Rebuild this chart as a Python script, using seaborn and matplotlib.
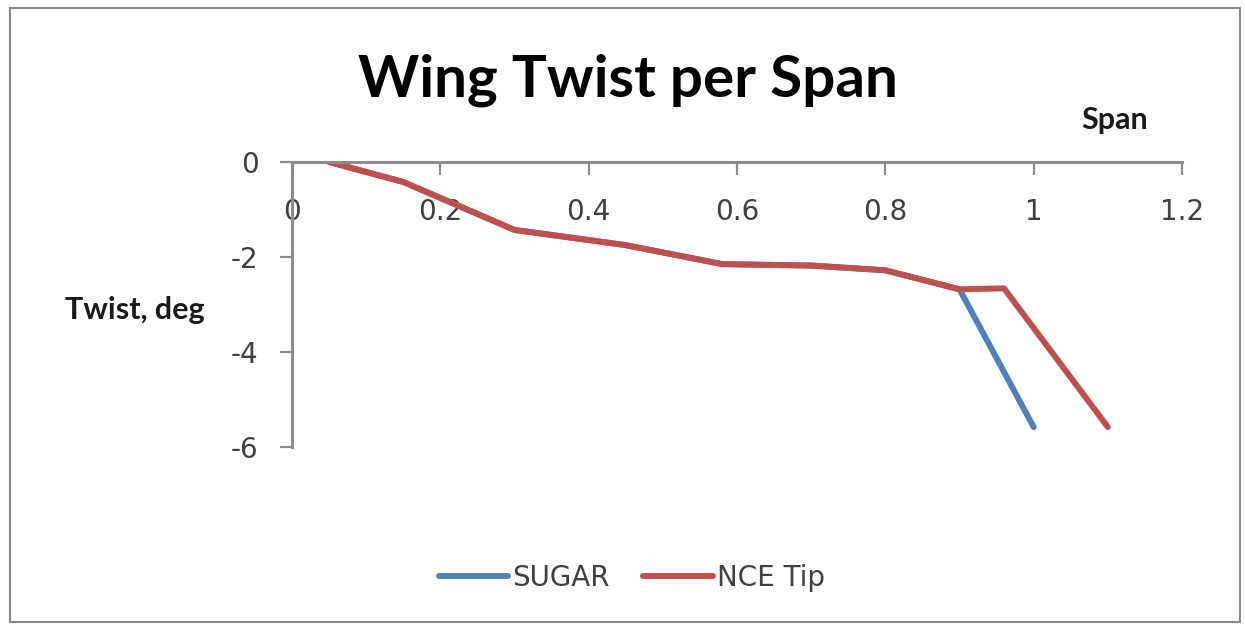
import matplotlib
matplotlib.use("Agg")
import matplotlib.pyplot as plt
import seaborn as sns
import pandas as pd
from matplotlib.patches import Rectangle

# Data
sugar_span = [0.05, 0.15, 0.30, 0.45, 0.58, 0.70, 0.80, 0.90, 1.00]
sugar_twist = [0.0, -0.42, -1.43, -1.75, -2.15, -2.18, -2.28, -2.68, -5.58]
nce_span = [0.05, 0.15, 0.30, 0.45, 0.58, 0.70, 0.80, 0.90, 0.96, 1.10]
nce_twist = [0.0, -0.42, -1.43, -1.75, -2.15, -2.18, -2.28, -2.68, -2.66, -5.58]
series_names = ["SUGAR", "NCE Tip"]
x_ticks = [0, 0.2, 0.4, 0.6, 0.8, 1.0, 1.2]
x_tick_labels = ["0", "0.2", "0.4", "0.6", "0.8", "1", "1.2"]
y_ticks = [0, -2, -4, -6]
y_tick_labels = ["0", "-2", "-4", "-6"]

df = pd.concat([
    pd.DataFrame({"span": sugar_span, "twist": sugar_twist, "series": series_names[0]}),
    pd.DataFrame({"span": nce_span, "twist": nce_twist, "series": series_names[1]}),
], ignore_index=True)

sns.set_theme(style="white")
plt.rcParams["font.family"] = ["DejaVu Sans"]

W, H = 1245, 629
fig = plt.figure(figsize=(W / 100, H / 100), dpi=100)
ax = fig.add_axes([292 / W, 1 - 447 / H, (1182 - 292) / W, (447 - 162) / H])

palette = {"SUGAR": "#4F81BD", "NCE Tip": "#C0504D"}
sns.lineplot(data=df, x="span", y="twist", hue="series", hue_order=series_names,
             palette=palette, sort=False, estimator=None, linewidth=4.3, ax=ax,
             legend=True)
for ln in ax.lines:
    ln.set_solid_capstyle("round")
    ln.set_solid_joinstyle("round")

ax.set_xlim(0, 1.2)
ax.set_ylim(-6, 0)
ax.set_xticks(x_ticks)
ax.set_xticklabels(x_tick_labels)
ax.set_yticks(y_ticks)
ax.set_yticklabels(y_tick_labels)
ax.set_xlabel("")
ax.set_ylabel("")

axis_color = "#8C8C8C"
for s in ["bottom", "right"]:
    ax.spines[s].set_visible(False)
for s in ["top", "left"]:
    ax.spines[s].set_visible(True)
    ax.spines[s].set_color(axis_color)
    ax.spines[s].set_linewidth(2.2)

ax.xaxis.set_ticks_position("top")
ax.tick_params(axis="x", which="major", direction="in", length=9, width=1.6,
               color=axis_color, labeltop=True, labelbottom=False, pad=-46,
               labelsize=20, labelcolor="#404040")
ax.tick_params(axis="y", which="major", direction="out", length=9, width=1.6,
               color=axis_color, left=True, labelsize=20, labelcolor="#404040", pad=15)

# Legend
handles, labels = ax.get_legend_handles_labels()
ax.get_legend().remove()
leg = fig.legend(handles, labels, loc="center", bbox_to_anchor=(632 / W, 1 - 578 / H),
                 ncol=2, frameon=False, fontsize=20, handlelength=2.5,
                 handletextpad=0.15, columnspacing=1.2)
for t in leg.get_texts():
    t.set_color("#404040")
for l in leg.get_lines():
    l.set_linewidth(4.3)
    l.set_solid_capstyle("round")

# Title and axis titles
fig.text(628 / W, 1 - 80 / H, "Wing Twist per Span", ha="center", va="center",
         fontsize=42, fontweight="bold", family=["Lato", "DejaVu Sans"], color="black")
fig.text(1115 / W, 1 - 120 / H, "Span", ha="center", va="center",
         fontsize=22, fontweight="bold", family=["Lato", "DejaVu Sans"], color="#1a1a1a")
fig.text(135 / W, 1 - 310 / H, "Twist, deg", ha="center", va="center",
         fontsize=22, fontweight="bold", family=["Lato", "DejaVu Sans"], color="#1a1a1a")

# Outer chart frame
fig.patches.append(Rectangle((10 / W, 1 - 622 / H), 1230 / W, 614 / H,
                             transform=fig.transFigure, fill=False,
                             edgecolor="#8A8A8A", linewidth=1.5))

fig.savefig("out.png", dpi=100, facecolor="white")
